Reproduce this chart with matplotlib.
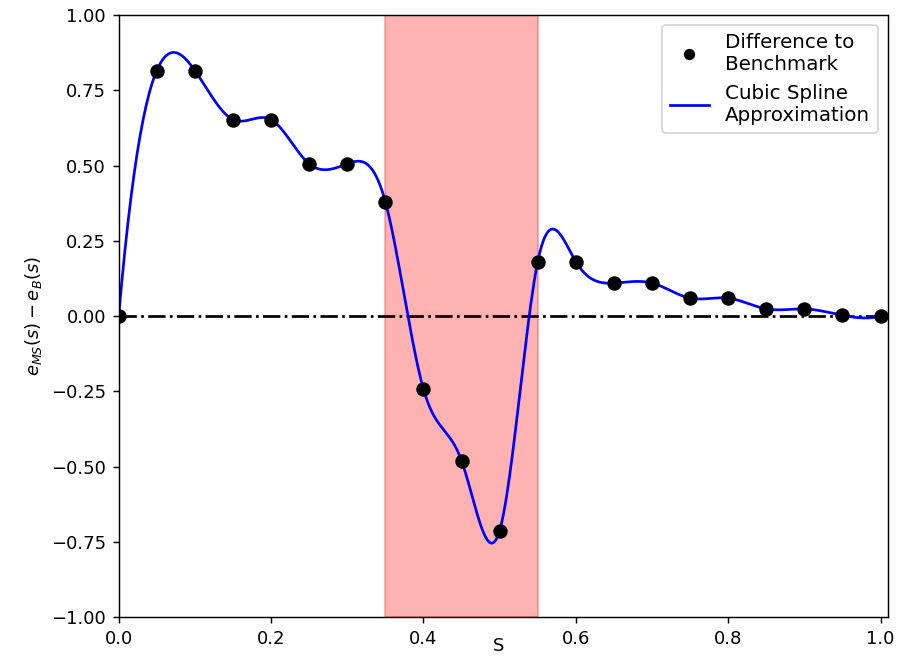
import numpy as np
import matplotlib
matplotlib.use('Agg')
import matplotlib.pyplot as plt

# sample points and measured difference to benchmark
s_points = [0.0, 0.05, 0.10, 0.15, 0.20, 0.25, 0.30, 0.35, 0.40, 0.45, 0.50,
            0.55, 0.60, 0.65, 0.70, 0.75, 0.80, 0.85, 0.90, 0.95, 1.0]
diff_values = [0.0, 0.816, 0.816, 0.653, 0.653, 0.506, 0.506, 0.380, -0.242, -0.480, -0.712,
               0.181, 0.181, 0.110, 0.110, 0.060, 0.060, 0.024, 0.024, 0.003, 0.0]
shade_region = [0.35, 0.55]


def not_a_knot_spline(x, y, x_new):
    """Cubic spline with not-a-knot end conditions (same as scipy default)."""
    x = np.asarray(x, float)
    y = np.asarray(y, float)
    n = len(x)
    h = np.diff(x)
    A = np.zeros((n, n))
    b = np.zeros(n)
    # not-a-knot: third derivative continuous at x1 and x_{n-2}
    A[0, 0] = h[1]
    A[0, 1] = -(h[0] + h[1])
    A[0, 2] = h[0]
    A[-1, -3] = h[-1]
    A[-1, -2] = -(h[-2] + h[-1])
    A[-1, -1] = h[-2]
    for i in range(1, n - 1):
        A[i, i - 1] = h[i - 1]
        A[i, i] = 2 * (h[i - 1] + h[i])
        A[i, i + 1] = h[i]
        b[i] = 6 * ((y[i + 1] - y[i]) / h[i] - (y[i] - y[i - 1]) / h[i - 1])
    M = np.linalg.solve(A, b)
    idx = np.clip(np.searchsorted(x, x_new) - 1, 0, n - 2)
    xi, xi1 = x[idx], x[idx + 1]
    hi = xi1 - xi
    return (M[idx] * (xi1 - x_new) ** 3 / (6 * hi)
            + M[idx + 1] * (x_new - xi) ** 3 / (6 * hi)
            + (y[idx] / hi - M[idx] * hi / 6) * (xi1 - x_new)
            + (y[idx + 1] / hi - M[idx + 1] * hi / 6) * (x_new - xi))


s_fine = np.linspace(s_points[0], s_points[-1], 500)
spline = not_a_knot_spline(s_points, diff_values, s_fine)

fig, ax = plt.subplots(figsize=(899 / 130, 658 / 130), dpi=130)
fig.subplots_adjust(left=0.132, right=0.988, top=0.977, bottom=0.062)

ax.axvspan(shade_region[0], shade_region[1], color='red', alpha=0.3)
ax.plot([s_points[0], s_points[-1]], [0, 0], 'k-.', lw=1.5)
ax.plot(s_points, diff_values, 'ko', markersize=7, label='Difference to\nBenchmark', zorder=3)
ax.plot(s_fine, spline, color='blue', lw=1.5, label='Cubic Spline\nApproximation')

ax.set_xlim(0, 1.01)
ax.set_ylim(-1, 1)
ax.set_yticks(np.arange(-1, 1.01, 0.25))
ax.set_xlabel('S')
ax.xaxis.set_label_coords(0.494, -0.033)
ax.set_ylabel(r'$e_{MS}(s) - e_{B}(s)$')
ax.legend(loc='upper right', fontsize=11, markerscale=0.75)

plt.savefig('out.png', dpi=130)
plt.close()
